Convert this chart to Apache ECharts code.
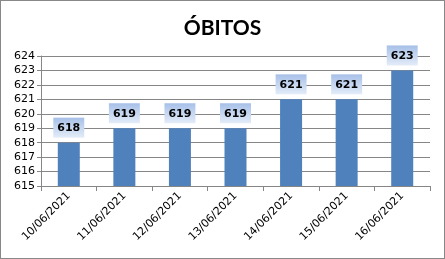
<!DOCTYPE html>
<html><head><meta charset="utf-8">
<script src="https://cdn.jsdelivr.net/npm/echarts@6/dist/echarts.min.js"></script>
<style>html,body{margin:0;padding:0;background:#fff}#c{width:445px;height:259px;box-sizing:border-box;border:1px solid #888}</style>
</head><body><div id="c"></div>
<script>
const categories = ["10/06/2021","11/06/2021","12/06/2021","13/06/2021","14/06/2021","15/06/2021","16/06/2021"];
const obitos = [618,619,619,619,621,621,623];
const title = "ÓBITOS";
const chart = echarts.init(document.getElementById('c'), null, {renderer:'canvas'});
chart.setOption({
  animation:false,
  title:{text:title,left:'center',top:12,textStyle:{fontFamily:'Lato',fontSize:21,fontWeight:'bold',color:'#000'}},
  grid:{left:40,right:14,top:55,bottom:72,containLabel:false},
  xAxis:{type:'category',data:categories,
    axisLine:{lineStyle:{color:'#868686'}},
    axisTick:{show:true,length:5,lineStyle:{color:'#868686'}},
    axisLabel:{rotate:45,fontFamily:'DejaVu Sans',fontSize:11,color:'#000',margin:8,interval:0}},
  yAxis:{type:'value',min:615,max:624,interval:1,
    axisLine:{show:true,lineStyle:{color:'#868686'}},
    axisTick:{show:true,length:4,lineStyle:{color:'#868686'}},
    splitLine:{lineStyle:{color:'#868686'}},
    axisLabel:{fontFamily:'DejaVu Sans',fontSize:11,color:'#000',margin:6}},
  series:[{type:'bar',data:obitos,barWidth:22,itemStyle:{color:'#4f81bd'},
    label:{show:true,position:'top',distance:5,fontFamily:'DejaVu Sans',fontWeight:'bold',fontSize:11,color:'#000',
      padding:[5,4,4,4],
      backgroundColor:{type:'linear',x:0,y:0,x2:0,y2:1,colorStops:[{offset:0,color:'#a7c0e8'},{offset:1,color:'#e3ecf8'}]}}}]
});
</script></body></html>
